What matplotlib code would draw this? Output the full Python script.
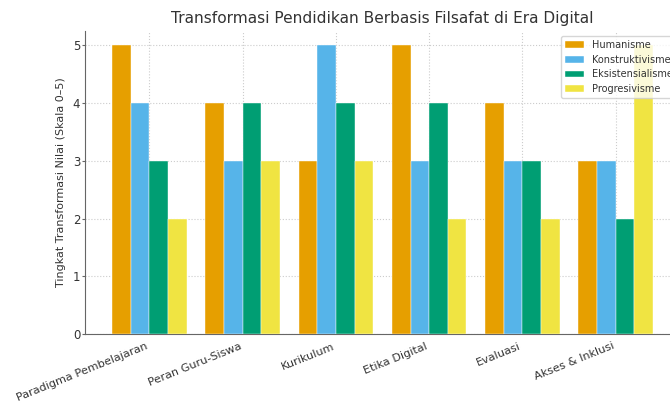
import numpy as np
import matplotlib
matplotlib.use("Agg")
from matplotlib import pyplot as plt

categories = ['Paradigma Pembelajaran', 'Peran Guru-Siswa', 'Kurikulum',
              'Etika Digital', 'Evaluasi', 'Akses & Inklusi']
humanisme = [5, 4, 3, 5, 4, 3]
konstruktivisme = [4, 3, 5, 3, 3, 3]
eksistensialisme = [3, 4, 4, 4, 3, 2]
progresivisme = [2, 3, 3, 2, 2, 5]

series = [('Humanisme', humanisme, '#E69F00'),
          ('Konstruktivisme', konstruktivisme, '#56B4E9'),
          ('Eksistensialisme', eksistensialisme, '#009E73'),
          ('Progresivisme', progresivisme, '#F0E442')]

text_color = '#333333'
plt.rcParams['font.family'] = 'DejaVu Sans'

fig = plt.figure(figsize=(6.7, 4.07), dpi=100)
ax = fig.add_axes([0.127, 0.179, 0.888, 0.745])

x = np.arange(len(categories))
width = 0.2
for k, (name, vals, col) in enumerate(series):
    ax.bar(x + (k - 1.5) * width, vals, width, label=name, color=col,
           edgecolor='white', linewidth=0.3, zorder=3)

ax.set_xticks(x)
ax.set_xticklabels(categories, rotation=22, ha='right', fontsize=8.1, color=text_color)
ax.set_yticks(range(0, 6))
ax.tick_params(axis='y', labelsize=8.5, labelcolor=text_color, length=2, pad=1.5, color='#666666')
ax.tick_params(axis='x', length=0, pad=5)
ax.set_ylabel('Tingkat Transformasi Nilai (Skala 0–5)', fontsize=8, color=text_color, labelpad=5)
ax.set_title('Transformasi Pendidikan Berbasis Filsafat di Era Digital',
             fontsize=11.1, color=text_color, pad=6)

ax.grid(True, linestyle=':', color='#cccccc', linewidth=0.8, zorder=0)
ax.set_axisbelow(True)
for s in ['top', 'right']:
    ax.spines[s].set_visible(False)
for s in ['left', 'bottom']:
    ax.spines[s].set_color('#666666')

leg = ax.legend(loc='upper right', bbox_to_anchor=(1.003, 1.0), fontsize=7,
                framealpha=0.8, labelcolor=text_color)

fig.savefig('out.png', dpi=100)
